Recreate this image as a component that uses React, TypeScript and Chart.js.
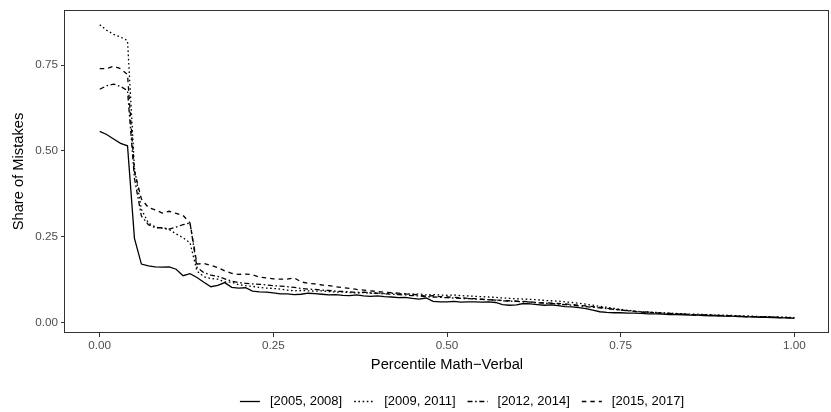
import React, { useEffect, useRef } from "react";
import { Chart, registerables } from "chart.js";

Chart.register(...registerables);

// Percentile grid of the Math−Verbal gap (0.00 … 1.00, steps of 0.01)
const percentiles: number[] = Array.from({ length: 101 }, (_, i) => i / 100);

const periods = ["[2005, 2008]", "[2009, 2011]", "[2012, 2014]", "[2015, 2017]"];

const share2005_2008 = [
  0.557, 0.548, 0.535, 0.522, 0.515, 0.245, 0.170, 0.165, 0.162, 0.161,
  0.162, 0.155, 0.136, 0.142, 0.131, 0.117, 0.104, 0.108, 0.116, 0.102,
  0.100, 0.101, 0.091, 0.089, 0.088, 0.086, 0.083, 0.083, 0.081, 0.082,
  0.085, 0.084, 0.082, 0.080, 0.081, 0.079, 0.078, 0.080, 0.077, 0.076,
  0.077, 0.075, 0.074, 0.072, 0.073, 0.070, 0.068, 0.071, 0.061, 0.060,
  0.060, 0.061, 0.059, 0.060, 0.060, 0.059, 0.060, 0.058, 0.052, 0.050,
  0.051, 0.055, 0.054, 0.052, 0.050, 0.051, 0.049, 0.046, 0.045, 0.043,
  0.040, 0.036, 0.031, 0.029, 0.028, 0.028, 0.027, 0.027, 0.026, 0.025,
  0.025, 0.024, 0.023, 0.023, 0.022, 0.021, 0.021, 0.020, 0.019, 0.019,
  0.018, 0.018, 0.017, 0.016, 0.016, 0.015, 0.015, 0.014, 0.013, 0.013,
  0.012,
];

const share2009_2011 = [
  0.868, 0.852, 0.840, 0.832, 0.822, 0.450, 0.330, 0.290, 0.278, 0.275,
  0.271, 0.258, 0.247, 0.232, 0.150, 0.133, 0.128, 0.126, 0.118, 0.117,
  0.110, 0.107, 0.105, 0.102, 0.100, 0.099, 0.097, 0.094, 0.092, 0.093,
  0.092, 0.091, 0.092, 0.090, 0.088, 0.089, 0.087, 0.086, 0.087, 0.085,
  0.086, 0.084, 0.085, 0.083, 0.084, 0.082, 0.083, 0.080, 0.081, 0.080,
  0.079, 0.080, 0.078, 0.077, 0.076, 0.075, 0.074, 0.073, 0.071, 0.070,
  0.069, 0.068, 0.067, 0.066, 0.064, 0.063, 0.062, 0.060, 0.058, 0.056,
  0.053, 0.050, 0.047, 0.044, 0.041, 0.038, 0.035, 0.033, 0.031, 0.030,
  0.029, 0.028, 0.027, 0.026, 0.025, 0.024, 0.024, 0.023, 0.022, 0.021,
  0.021, 0.020, 0.019, 0.019, 0.018, 0.017, 0.017, 0.016, 0.015, 0.015,
  0.014,
];

const share2012_2014 = [
  0.680, 0.690, 0.695, 0.688, 0.676, 0.420, 0.310, 0.285, 0.276, 0.276,
  0.272, 0.278, 0.285, 0.290, 0.160, 0.145, 0.138, 0.134, 0.127, 0.120,
  0.116, 0.114, 0.112, 0.111, 0.109, 0.107, 0.106, 0.104, 0.102, 0.099,
  0.097, 0.096, 0.094, 0.093, 0.091, 0.090, 0.089, 0.087, 0.088, 0.086,
  0.085, 0.083, 0.082, 0.081, 0.080, 0.078, 0.077, 0.075, 0.074, 0.073,
  0.072, 0.071, 0.070, 0.069, 0.068, 0.067, 0.066, 0.065, 0.063, 0.062,
  0.061, 0.060, 0.059, 0.057, 0.056, 0.055, 0.053, 0.052, 0.050, 0.048,
  0.046, 0.044, 0.042, 0.040, 0.038, 0.036, 0.034, 0.032, 0.031, 0.030,
  0.028, 0.027, 0.026, 0.025, 0.024, 0.023, 0.022, 0.022, 0.021, 0.020,
  0.019, 0.019, 0.018, 0.017, 0.017, 0.016, 0.016, 0.015, 0.015, 0.014,
  0.013,
];

const share2015_2017 = [
  0.740, 0.740, 0.747, 0.740, 0.723, 0.440, 0.360, 0.335, 0.328, 0.319,
  0.324, 0.318, 0.312, 0.290, 0.170, 0.172, 0.166, 0.160, 0.150, 0.143,
  0.140, 0.141, 0.139, 0.132, 0.130, 0.127, 0.126, 0.126, 0.130, 0.118,
  0.114, 0.112, 0.109, 0.107, 0.104, 0.101, 0.099, 0.096, 0.094, 0.092,
  0.090, 0.088, 0.087, 0.085, 0.083, 0.082, 0.080, 0.076, 0.078, 0.075,
  0.074, 0.073, 0.072, 0.070, 0.069, 0.068, 0.066, 0.065, 0.064, 0.063,
  0.062, 0.061, 0.060, 0.058, 0.057, 0.056, 0.055, 0.054, 0.052, 0.050,
  0.048, 0.046, 0.044, 0.041, 0.039, 0.036, 0.034, 0.032, 0.030, 0.029,
  0.028, 0.027, 0.026, 0.025, 0.024, 0.023, 0.022, 0.021, 0.021, 0.020,
  0.019, 0.019, 0.018, 0.017, 0.017, 0.016, 0.015, 0.015, 0.014, 0.014,
  0.013,
];

const seriesValues = [share2005_2008, share2009_2011, share2012_2014, share2015_2017];

const xTicks = [0, 0.25, 0.5, 0.75, 1];
const yTicks = [0, 0.25, 0.5, 0.75];

// ggplot-like line types: solid, dotted, dotdash, dashed
const lineDashes: number[][] = [[], [1.6, 2.6], [5, 2.6, 1.6, 2.6], [4.5, 4]];

const FONT = '"Liberation Sans", Arial, Helvetica, sans-serif';
const LINE_W = 1.3;

const panelBorder = {
  id: "panelBorder",
  afterDraw(chart: any) {
    const { ctx, chartArea } = chart;
    ctx.save();
    ctx.strokeStyle = "#333333";
    ctx.lineWidth = 1;
    ctx.strokeRect(
      Math.round(chartArea.left) - 0.5,
      Math.round(chartArea.top) + 0.5,
      Math.round(chartArea.right - chartArea.left),
      Math.round(chartArea.bottom - chartArea.top) - 1
    );
    ctx.restore();
  },
};

const bottomLegend = {
  id: "bottomLegend",
  afterDraw(chart: any) {
    const { ctx, chartArea } = chart;
    ctx.save();
    ctx.font = `13px ${FONT}`;
    const keyW = 20;
    const keyGap = 10;
    const itemGap = 12;
    const widths = periods.map((p) => ctx.measureText(p).width);
    const total =
      widths.reduce((a, w) => a + keyW + keyGap + w, 0) + itemGap * (periods.length - 1);
    let x = (chartArea.left + chartArea.right) / 2 + 15 - total / 2;
    const y = 401;
    periods.forEach((label, i) => {
      ctx.beginPath();
      ctx.setLineDash(lineDashes[i]);
      ctx.strokeStyle = "#000000";
      ctx.lineWidth = LINE_W;
      ctx.moveTo(x, y + 0.5);
      ctx.lineTo(x + keyW, y + 0.5);
      ctx.stroke();
      ctx.setLineDash([]);
      ctx.fillStyle = "#000000";
      ctx.textBaseline = "middle";
      ctx.textAlign = "left";
      ctx.fillText(label, x + keyW + keyGap, y);
      x += keyW + keyGap + widths[i] + itemGap;
    });
    ctx.restore();
  },
};

export default function App() {
  const canvasRef = useRef<HTMLCanvasElement | null>(null);

  useEffect(() => {
    document.body.style.margin = "0";
    const canvas = canvasRef.current;
    if (!canvas) return;

    const datasets = seriesValues.map((vals, i) => ({
      label: periods[i],
      data: vals.map((v, j) => ({ x: percentiles[j], y: v })),
      borderColor: "#000000",
      borderWidth: LINE_W,
      borderDash: lineDashes[i],
      pointRadius: 0,
      fill: false,
      tension: 0,
    }));

    const chart = new Chart(canvas, {
      type: "line",
      data: { datasets },
      options: {
        responsive: false,
        animation: false,
        devicePixelRatio: 1,
        layout: { padding: { top: 7, right: 2, left: 0, bottom: 37 } },
        plugins: {
          legend: { display: false },
          tooltip: { enabled: false },
        },
        scales: {
          x: {
            type: "linear",
            min: -0.05,
            max: 1.05,
            afterBuildTicks: (s: any) => {
              s.ticks = xTicks.map((v) => ({ value: v }));
            },
            afterFit: (s: any) => {
              s.height = 42;
            },
            grid: {
              drawOnChartArea: false,
              drawTicks: true,
              tickLength: 4,
              color: "#333333",
              lineWidth: 1,
            },
            border: { display: false },
            ticks: {
              padding: 2,
              color: "#4D4D4D",
              font: { family: FONT, size: 11.7 },
              maxRotation: 0,
              callback: (v: any) => Number(v).toFixed(2),
            },
            title: {
              display: true,
              text: "Percentile Math\u2212Verbal",
              color: "#000000",
              font: { family: FONT, size: 14.7 },
              padding: { top: 0, bottom: 1 },
            },
          },
          y: {
            type: "linear",
            min: -0.031,
            max: 0.911,
            afterBuildTicks: (s: any) => {
              s.ticks = yTicks.map((v) => ({ value: v }));
            },
            afterFit: (s: any) => {
              s.width = 65;
            },
            grid: {
              drawOnChartArea: false,
              drawTicks: true,
              tickLength: 4,
              color: "#333333",
              lineWidth: 1,
            },
            border: { display: false },
            ticks: {
              padding: 3,
              color: "#4D4D4D",
              font: { family: FONT, size: 11.7 },
              callback: (v: any) => Number(v).toFixed(2),
            },
            title: {
              display: true,
              text: "Share of Mistakes",
              color: "#000000",
              font: { family: FONT, size: 14.7 },
              padding: { top: 10, bottom: 0 },
            },
          },
        },
      },
      plugins: [panelBorder, bottomLegend],
    });

    return () => chart.destroy();
  }, []);

  return (
    <div style={{ width: 831, height: 412, background: "#ffffff" }}>
      <canvas ref={canvasRef} width={831} height={412} style={{ display: "block" }} />
    </div>
  );
}
